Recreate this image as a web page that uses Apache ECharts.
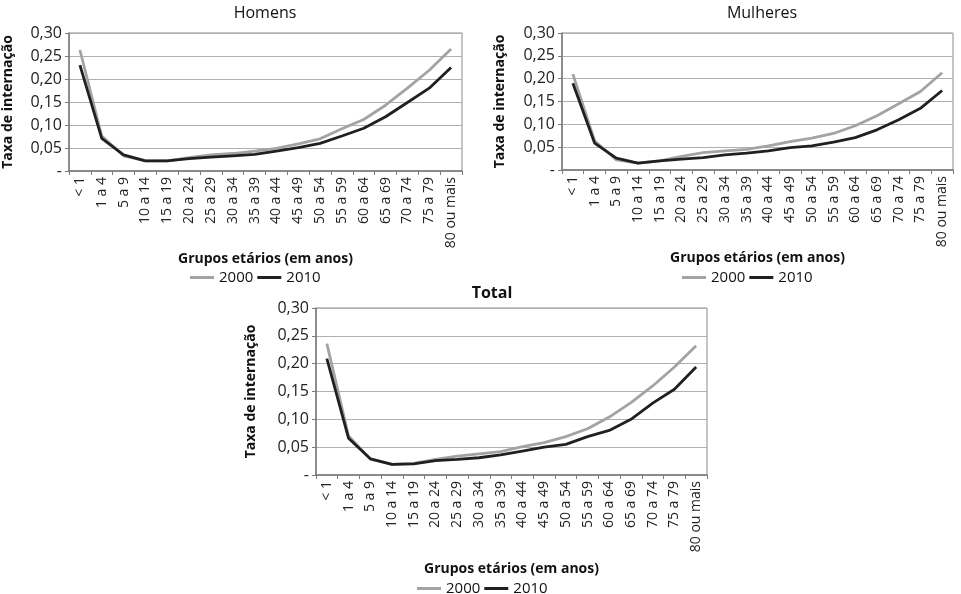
<!DOCTYPE html>
<html lang="pt">
<head>
    <meta charset="UTF-8">
    <title>Taxa de internação</title>
    <style>
        html,body{
            padding: 0;
            margin: 0;
            width: 100%;
            height: 100%;
            background: #fff;
        }
        .map{
            width: 961px;
            height: 594px;
        }
    </style>
    <script src="https://cdn.jsdelivr.net/npm/echarts@6/dist/echarts.min.js"></script>
</head>
<body>
<div class="map"></div>
<script>
    // dados
    let categories = ['< 1', '1 a 4', '5 a 9', '10 a 14', '15 a 19', '20 a 24', '25 a 29', '30 a 34', '35 a 39',
        '40 a 44', '45 a 49', '50 a 54', '55 a 59', '60 a 64', '65 a 69', '70 a 74', '75 a 79', '80 ou mais'];

    let homens2000 = [0.263, 0.076, 0.033, 0.022, 0.022, 0.029, 0.035, 0.038, 0.043, 0.049, 0.059, 0.070, 0.092, 0.112, 0.143, 0.180, 0.219, 0.265];
    let homens2010 = [0.230, 0.071, 0.035, 0.022, 0.022, 0.027, 0.030, 0.033, 0.036, 0.043, 0.051, 0.060, 0.076, 0.093, 0.118, 0.149, 0.180, 0.225];

    let mulheres2000 = [0.210, 0.064, 0.022, 0.015, 0.020, 0.030, 0.038, 0.042, 0.045, 0.053, 0.062, 0.070, 0.080, 0.097, 0.119, 0.145, 0.172, 0.213];
    let mulheres2010 = [0.190, 0.059, 0.026, 0.015, 0.020, 0.024, 0.027, 0.033, 0.037, 0.042, 0.049, 0.053, 0.061, 0.071, 0.088, 0.110, 0.135, 0.174];

    let total2000 = [0.236, 0.070, 0.029, 0.019, 0.021, 0.028, 0.034, 0.038, 0.042, 0.051, 0.058, 0.069, 0.083, 0.104, 0.130, 0.160, 0.194, 0.232];
    let total2010 = [0.209, 0.066, 0.029, 0.019, 0.020, 0.026, 0.028, 0.031, 0.036, 0.043, 0.050, 0.055, 0.069, 0.080, 0.100, 0.129, 0.154, 0.194];

    let years = ['2000', '2010'];

    let font = 'Open Sans';
    let gray = '#a3a3a3';
    let black = '#231f20';

    let panels = [
        {title: 'Homens', bold: 'normal', grid: {left: 65, top: 33, width: 397, height: 138}, yGap: 54, xGap: 79,
            legend: {left: 185, top: 265}, titleX: 260, titleY: 0, data: [homens2000, homens2010]},
        {title: 'Mulheres', bold: 'normal', grid: {left: 562, top: 33, width: 391, height: 137}, yGap: 55, xGap: 80,
            legend: {left: 677, top: 265}, titleX: 757, titleY: 0, data: [mulheres2000, mulheres2010]},
        {title: 'Total', bold: 'bold', grid: {left: 316, top: 308, width: 391, height: 167}, yGap: 58, xGap: 87,
            legend: {left: 412, top: 576}, titleX: 487, titleY: 280, data: [total2000, total2010]}
    ];

    let myChart = echarts.init(document.querySelector('.map'));

    let option = {
        backgroundColor: '#fff',
        animation: false,
        title: [],
        legend: [],
        grid: [],
        xAxis: [],
        yAxis: [],
        series: []
    };

    panels.forEach((p, i) => {
        option.title.push({
            text: p.title,
            left: p.titleX,
            top: p.titleY,
            textAlign: 'center',
            textStyle: {fontFamily: font, fontSize: 16, fontWeight: p.bold, color: '#111'}
        });
        option.legend.push({
            data: years,
            left: p.legend.left,
            top: p.legend.top,
            icon: 'rect',
            itemWidth: 24,
            itemHeight: 3,
            itemGap: 4,
            selectedMode: false,
            textStyle: {fontFamily: font, fontSize: 15, color: '#111'}
        });
        option.grid.push(Object.assign({
            show: true,
            borderColor: '#8a8a8a',
            borderWidth: 1,
            backgroundColor: '#fff'
        }, p.grid));
        option.xAxis.push({
            type: 'category',
            gridIndex: i,
            data: categories,
            boundaryGap: true,
            name: 'Grupos etários (em anos)',
            nameLocation: 'middle',
            nameGap: p.xGap,
            nameTextStyle: {fontFamily: font, fontSize: 14, fontWeight: 'bold', color: '#111'},
            axisLine: {lineStyle: {color: '#7a7a7a', width: 1.5}},
            axisTick: {show: true, length: 4, lineStyle: {color: '#7a7a7a'}},
            axisLabel: {rotate: 90, interval: 0, margin: 6, fontFamily: font, fontSize: 14, color: '#222'},
            splitLine: {show: false}
        });
        option.yAxis.push({
            type: 'value',
            gridIndex: i,
            min: 0,
            max: 0.3,
            interval: 0.05,
            name: 'Taxa de internação',
            nameLocation: 'middle',
            nameGap: p.yGap,
            nameTextStyle: {fontFamily: font, fontSize: 14, fontWeight: 'bold', color: '#111'},
            axisLine: {show: true, lineStyle: {color: '#7a7a7a', width: 1.5}},
            axisTick: {show: true, length: 4, lineStyle: {color: '#7a7a7a'}},
            axisLabel: {
                fontFamily: font, fontSize: 16, color: '#222', margin: 7,
                formatter: v => v === 0 ? '-' : v.toFixed(2).replace('.', ',')
            },
            splitLine: {lineStyle: {color: '#b0b0b0', width: 1}}
        });
        years.forEach((y, k) => {
            option.series.push({
                name: y,
                type: 'line',
                xAxisIndex: i,
                yAxisIndex: i,
                data: p.data[k],
                symbol: 'none',
                color: k === 0 ? gray : black,
                lineStyle: {width: 2.8, color: k === 0 ? gray : black}
            });
        });
    });

    myChart.setOption(option);
</script>
</body>
</html>
